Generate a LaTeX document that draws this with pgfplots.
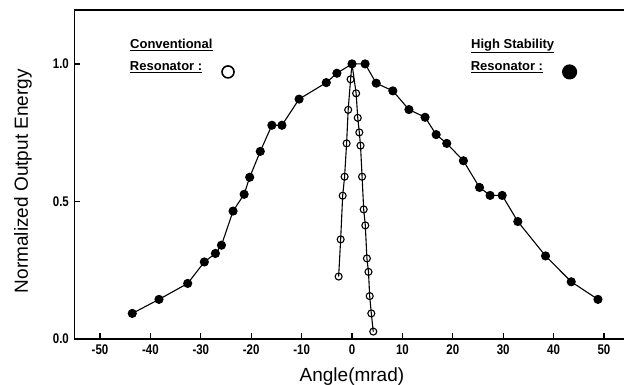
\documentclass[border=0pt]{standalone}
\usepackage{fontspec}
\setmainfont{Liberation Sans}
\newfontfamily\tickfont[FakeStretch=0.82]{Liberation Sans}
\usepackage{pgfplots}
\pgfplotsset{compat=1.18}
\begin{document}
\begin{tikzpicture}
\begin{axis}[
  scale only axis, width=549.6pt, height=329pt,
  xmin=-55.08, xmax=53.97, ymin=0, ymax=1.196,
  axis line style={draw=none},
  xtick={-50,-40,...,50}, ytick={0,0.5,1.0},
  yticklabels={0.0,0.5,1.0},
  xtick pos=bottom, ytick pos=left, tick align=inside,
  major tick length=6pt,
  tick style={line width=1.2pt, black},
  /pgf/number format/assume math mode=true,
  ticklabel style={font=\tickfont\fontsize{14}{16}\selectfont\bfseries},
  xticklabel style={yshift=-2pt},
  yticklabel style={xshift=-2pt},
  xlabel={Angle(mrad)}, ylabel={Normalized Output Energy},
  label style={font=\fontsize{19}{22}\selectfont},
  xlabel style={at={([yshift=-42pt]axis description cs:0.505,0)}, anchor=base},
  ylabel style={at={([xshift=-46.4pt]axis description cs:0,0.48)}, anchor=base},
  legend columns=2, legend plot pos=right,
  legend style={draw=none, fill=none, inner sep=0pt, outer sep=0pt,
    at={(axis cs:-44.05,1.008)}, anchor=north west,
    nodes={inner sep=0pt, font=\fontsize{13}{15}\selectfont\bfseries},
    /tikz/every odd column/.append style={column sep=19pt},
    /tikz/every even column/.append style={column sep=236pt}},
  clip=false,
]
\addplot[black, line width=1.1pt, mark=o, mark size=3.5pt,
  mark options={fill=white, line width=1.1pt},
  legend image code/.code={\draw[line width=1.6pt, fill=white] (7pt,-5pt) circle (6pt);}]
  coordinates {
  (-2.65,0.227) (-2.25,0.362) (-1.85,0.521) (-1.47,0.590) (-1.07,0.711)
  (-0.76,0.833) (-0.28,0.944) (0,1.0) (0.82,0.893) (1.14,0.804)
  (1.45,0.751) (1.69,0.703) (2.0,0.590) (2.32,0.471) (2.64,0.413)
  (2.96,0.293) (3.27,0.244) (3.51,0.156) (3.83,0.093) (4.22,0.027)
  };
\addlegendentry{\underline{Resonator :}}
\addplot[black, line width=1.1pt, mark=*, mark size=4pt,
  legend image code/.code={\fill[black] (8pt,-5pt) circle (7pt);}]
  coordinates {
  (-43.6,0.093) (-38.3,0.144) (-32.6,0.202) (-29.3,0.280) (-27.1,0.311)
  (-25.9,0.341) (-23.6,0.465) (-21.4,0.526) (-20.3,0.588) (-18.2,0.682)
  (-15.9,0.777) (-13.9,0.777) (-10.5,0.872) (-5.1,0.932) (-3.0,0.966)
  (0.0,1.0) (2.6,1.0) (4.8,0.930) (8.1,0.902) (11.3,0.834)
  (14.5,0.806) (16.7,0.743) (18.8,0.711) (22.1,0.648) (25.3,0.551)
  (27.4,0.522) (29.8,0.522) (32.9,0.427) (38.4,0.302) (43.5,0.208)
  (48.8,0.144)
  };
\addlegendentry{\underline{Resonator :}}
\draw[line width=1.5pt] (rel axis cs:0,1) -- (rel axis cs:0,0) -- (rel axis cs:1,0);
\draw[line width=1.5pt] (rel axis cs:0,1) -- (rel axis cs:1,1);
\node[anchor=base west, inner sep=0pt, font=\fontsize{13}{15}\selectfont\bfseries]
  at (axis cs:-44.05,1.057) {\underline{Conventional}};
\node[anchor=base west, inner sep=0pt, font=\fontsize{13}{15}\selectfont\bfseries]
  at (axis cs:23.6,1.057) {\underline{High Stability}};
\end{axis}
\pgfresetboundingbox
\path[use as bounding box] ([xshift=-74.4pt,yshift=-45pt]current axis.south west) rectangle ([yshift=10pt]current axis.north east);
\end{tikzpicture}
\end{document}
